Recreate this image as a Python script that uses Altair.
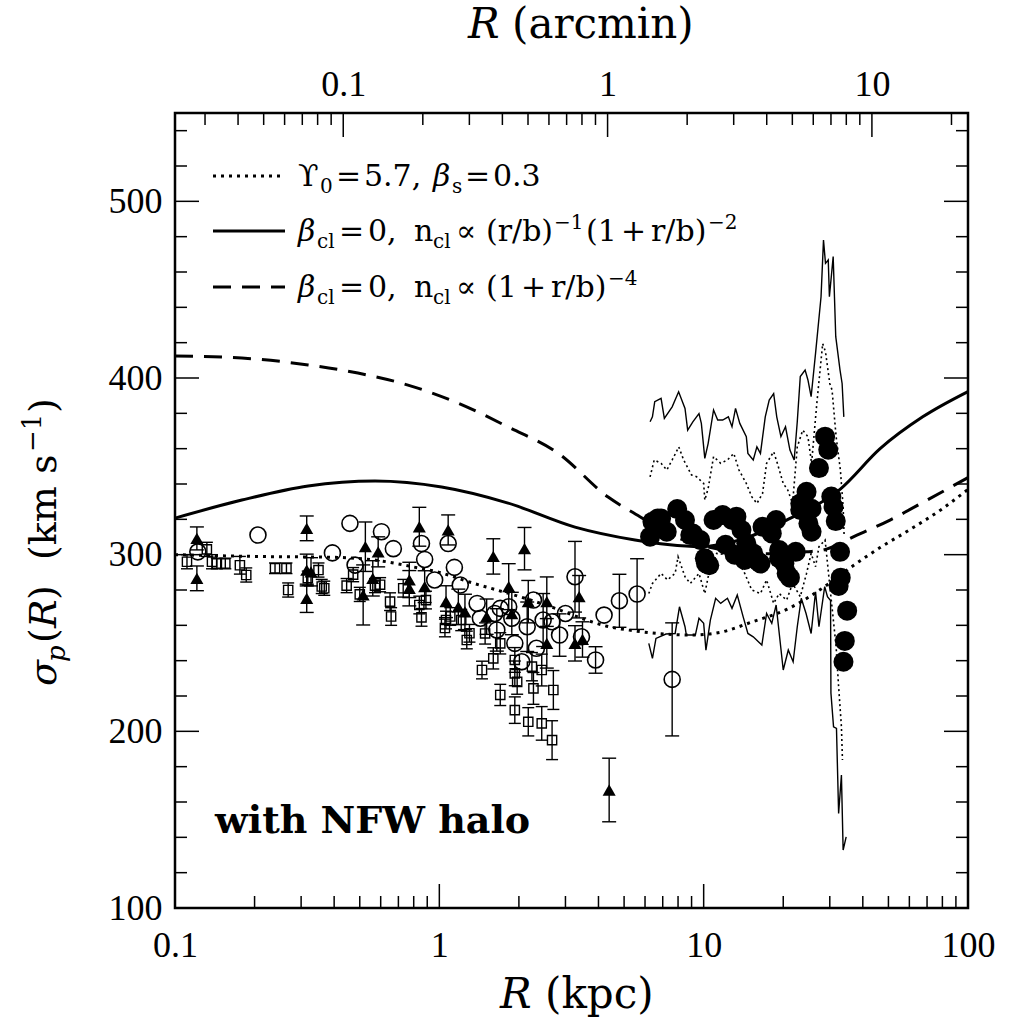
import altair as alt
import pandas as pd

SERIF = "Liberation Serif"
DV = "DejaVu Serif"
KPC_PER_ARCMIN = 4.33

# ---------------- model curves ----------------
dot_R = [0.1, 0.2, 0.4, 0.6, 0.8, 1.0, 1.3, 1.65, 2.14, 2.7, 3.6, 4.3, 5.4, 7.3, 9.0, 11.5, 15.3, 20.6, 25, 30, 35, 46.5, 60, 80, 100]
dot_S = [300, 299, 298.5, 296.5, 293, 290, 284.5, 280, 275, 270, 263, 259.5, 257, 255, 254.5, 256, 262, 269, 276, 284, 291.5, 304, 314, 326, 337]

sol_R = [0.1, 0.179, 0.319, 0.571, 1.02, 1.82, 3.26, 5.5, 7.3, 9.7, 13.7, 20.6, 32.8, 46.5, 67.4, 100]
sol_S = [320.7, 330.9, 338.9, 341.7, 338.3, 329.2, 315.6, 308.3, 305.7, 304.5, 308.3, 319.6, 337, 360, 378, 392.3]

dash_R = [0.1, 0.179, 0.319, 0.492, 0.761, 1.177, 1.82, 2.81, 4.35, 5.74, 7.3, 10, 13, 17, 20, 24.5, 28.3, 38, 50.7, 70, 100]
dash_S = [412.4, 411.3, 407.4, 402.8, 396, 385.8, 372.3, 357.5, 332.6, 321.5, 312, 305, 302, 300.5, 300.5, 301.6, 302.6, 311, 319.6, 330.9, 343.6]

# ---------------- noisy envelopes ----------------
up_sol_R = [6.27, 6.4, 6.53, 6.9, 7.1, 7.6, 8.04, 8.5, 8.7, 9.1, 9.6, 9.8, 10.1, 10.4, 10.9, 11.3, 11.8, 12.4, 12.8, 13.2, 13.7, 14.5, 14.7, 15.4, 15.9, 16.4, 17.1, 17.7, 18.4, 18.9, 19.6, 20.4, 21.2, 22.0, 22.6, 23.2, 24.2, 24.8, 25.5, 26.5, 27.8, 28.4, 28.9, 29.6, 29.9, 30.9, 31.6, 32.8, 33.4, 33.9]
up_sol_S = [375.2, 378, 386.6, 388.5, 377.1, 383.7, 392.2, 382.8, 370.5, 375.2, 379.9, 374.3, 354.5, 363, 381.9, 376.2, 376.2, 378, 372.4, 382.8, 374.3, 366.8, 357.3, 353.6, 361, 357.3, 378, 387.5, 391.2, 378, 366.8, 372.4, 359.2, 353.6, 375.2, 400.8, 404.5, 398.9, 389.4, 413.9, 446, 478.1, 464.9, 466.8, 446, 468.7, 423.4, 404.5, 396.9, 378]

lo_sol_R = [6.2, 6.4, 6.6, 7.2, 7.8, 8.1, 8.5, 8.6, 9.3, 9.6, 10.0, 10.2, 10.6, 11.1, 11.6, 12.3, 12.8, 13.4, 14.1, 14.7, 15.4, 16.6, 17.3, 18.1, 18.8, 20.0, 20.9, 21.8, 22.6, 23.4, 24.4, 25.5, 26.5, 27.3, 28.7, 29.4, 30.2, 30.3, 31.0, 31.8, 32.4, 33.2, 33.7, 34.6]
lo_sol_S = [249.8, 241.3, 252.6, 255.1, 255.4, 270.5, 259.2, 254.5, 254.5, 264, 261.1, 246, 263, 275.3, 272.4, 275.3, 269.6, 277.2, 264.9, 255.4, 253.5, 248.8, 266.7, 261.1, 271.5, 234.7, 246, 239.4, 259.2, 275.3, 266.7, 255.4, 279, 259.2, 281.9, 276.2, 274, 221.7, 202.6, 201.7, 153.5, 175.3, 132.8, 140.3]

up_dot_R = [6.27, 6.5, 6.9, 7.25, 7.6, 8.05, 8.4, 9.0, 9.4, 10.0, 10.1, 10.4, 10.9, 11.6, 12.3, 13.0, 13.6, 14.5, 15.2, 15.9, 16.7, 17.3, 18.4, 19.0, 20.0, 20.8, 21.7, 22.6, 23.7, 24.8, 25.6, 26.8, 28.2, 28.9, 30.0, 30.6, 31.7, 32.9, 33.7, 34.0]
up_dot_S = [344, 353.6, 351.7, 347.9, 353.6, 361, 353.6, 345.1, 344.1, 340.3, 330.9, 337.5, 355.5, 351.7, 353.6, 357.3, 347.9, 340.3, 332.8, 329, 334.6, 351.7, 358.3, 351.7, 340.3, 336.6, 329, 361, 370.5, 366.8, 351.7, 385.7, 419.5, 414.8, 396.9, 393.2, 366.8, 347.9, 327.1, 310]

lo_dot_R = [6.2, 6.4, 6.9, 7.3, 7.8, 8.0, 8.5, 8.9, 9.6, 10.1, 10.4, 11.2, 12.3, 13.0, 14.3, 15.2, 16.4, 17.3, 18.4, 19.3, 20.6, 21.7, 23.2, 24.5, 25.5, 26.5, 27.3, 28.8, 30.3, 31.7, 32.4, 33.2, 33.5]
lo_dot_S = [278, 283.7, 289.4, 285.7, 289.4, 298.8, 287.5, 283.7, 289.4, 278, 287.5, 300.7, 299.8, 300.7, 289.4, 280, 278, 285.7, 272.4, 278, 274.3, 283.7, 276.2, 289.4, 300.7, 293.2, 304.5, 308.3, 276.2, 247.9, 225.3, 202.6, 183.8]

# ---------------- data points ----------------
sq_R = [0.111, 0.132, 0.138, 0.144, 0.155, 0.176, 0.186, 0.239, 0.264, 0.268, 0.318, 0.349, 0.359, 0.367, 0.446, 0.472, 0.50, 0.571, 0.597, 0.651, 0.657, 0.73, 0.84, 0.856, 0.89, 1.05, 1.06, 1.10, 1.21, 1.27, 1.30, 1.45, 1.49, 1.60, 1.70, 1.70, 1.93, 1.93, 1.93, 1.97, 2.17, 2.24, 2.27, 2.44, 2.44, 2.67, 2.70]
sq_S = [296, 303, 296, 295, 295, 294, 288.5, 292.3, 292.3, 280, 286.7, 291.3, 282, 281, 282.5, 288.7, 277.5, 282.5, 283, 273.4, 265, 281, 271.5, 264.5, 274.3, 258.5, 263, 265, 263, 251.7, 255.5, 234.7, 255.4, 241.3, 220.6, 249.8, 212, 240.4, 232.8, 228, 205.4, 236.6, 224.3, 204.5, 234.7, 195, 223.4]
sq_E = [4, 4, 4, 3, 3, 5, 4, 3, 3, 4, 4, 4, 4, 4, 4, 4, 4, 4, 4, 5, 5, 5, 5, 5, 5, 5, 5, 5, 6, 5, 5, 5, 6, 6, 6, 6, 7.5, 7, 7, 7, 8, 8, 9, 9.5, 9, 11, 11]

tri_R = [0.121, 0.121, 0.315, 0.315, 0.315, 0.327, 0.525, 0.515, 0.56, 0.587, 0.77, 0.77, 0.84, 0.88, 1.06, 1.08, 1.18, 1.25, 1.51, 1.60, 1.83, 1.88, 2.10, 2.17, 2.55, 2.55, 3.26, 3.38, 3.48, 4.39]
tri_S = [309.2, 286.6, 314.9, 291.3, 275.3, 290.3, 304.5, 277.2, 286.6, 301.6, 285.7, 281, 315.8, 281.9, 273.4, 314, 270.5, 267.6, 264.9, 299, 281.9, 266.7, 303.4, 273.4, 273.4, 249.8, 249.8, 276.2, 252, 166.8]
tri_E = [6.5, 7, 7, 9, 8, 8, 14, 17, 10, 8.5, 10, 10, 11, 9, 9, 8.5, 10, 10, 10, 10, 13, 12, 12, 12, 14, 14, 10, 12, 10, 18]

oc_R = [0.122, 0.206, 0.394, 0.459, 0.48, 0.604, 0.67, 0.856, 0.88, 0.96, 1.08, 1.14, 1.20, 1.39, 1.43, 1.62, 1.70, 1.65, 1.83, 1.88, 1.93, 2.05, 2.15, 2.27, 2.33, 2.47, 2.67, 2.85, 3.0, 3.26, 3.45, 3.9, 4.2, 4.8, 5.6, 7.6]
oc_S = [301.6, 311.1, 301, 317.7, 294.1, 313, 303.4, 306.3, 297.3, 285.7, 306.3, 292.8, 282.8, 272.4, 264, 266.7, 269.6, 257.4, 270.5, 264, 249.8, 239.4, 259.2, 274.3, 247, 263, 262, 254.5, 266.7, 287.5, 253.5, 240.4, 265.8, 273.9, 277.7, 229.4]
oc_E = [0, 0, 0, 0, 0, 0, 0, 0, 0, 0, 0, 0, 0, 0, 0, 0, 0, 12, 0, 0, 0, 0, 14, 0, 0, 15, 0, 12, 0, 20, 0, 7.5, 0, 15, 20, 32]

fc_R = [6.27, 6.4, 6.7, 6.9, 7.25, 7.94, 8.5, 8.9, 9.1, 9.7, 10.1, 10.2, 10.5, 10.9, 11.8, 12.1, 12.8, 13.1, 13.3, 13.9, 14.3, 14.5, 15.4, 16.1, 16.4, 16.7, 18.1, 18.8, 19.3, 19.3, 20.2, 20.6, 21.2, 22.3, 23.2, 23.2, 24.5, 24.9, 25.6, 25.6, 27.3, 28.8, 29.6, 30.4, 31.0, 31.6, 32.8, 33.0, 32.4, 34.9, 34.2, 33.8]
fc_S = [310.2, 318.7, 320.5, 320.5, 313, 325.8, 319.6, 311.1, 312, 308.3, 298, 295.1, 294, 319.6, 322.4, 305.6, 319.6, 300, 321.5, 314, 297, 306.4, 300.7, 296, 295, 315.8, 312, 319.6, 302.6, 298, 295, 289.4, 287, 301.6, 329, 325.3, 335.6, 317.7, 326, 313, 349, 366.8, 359.4, 332.9, 327.1, 319, 301.6, 287, 282.3, 268.3, 251.2, 239.4]

# ---------------- axis ticks ----------------
x_major = [0.1, 1, 10, 100]
x_minor = [m * d for d in (0.1, 1, 10) for m in range(2, 10)]
y_major = [100, 200, 300, 400, 500]
y_minor = [v for v in range(120, 550, 20) if v % 100 != 0]
top_major = [0.1, 1, 10]
top_minor = [0.03, 0.04, 0.05, 0.06, 0.07, 0.08, 0.09, 0.2, 0.3, 0.4, 0.5, 0.6, 0.7, 0.8, 0.9, 2, 3, 4, 5, 6, 7, 8, 9, 20]

W, H = 793, 795
OX, OY = 175, 113
MAJ, MIN = 24, 12

XDOM = [0.1, 100]
X_AXIS = alt.Axis(values=x_major, format="~g", ticks=False, domain=False, grid=False,
                  labelFont=SERIF, labelFontSize=36, labelPadding=20, labelColor="black",
                  labelFlush=False, labelOverlap=False, title=None)
Y_AXIS = alt.Axis(values=y_major, format="d", ticks=False, domain=False, grid=False,
                  labelFont=SERIF, labelFontSize=36, labelPadding=13, labelColor="black",
                  labelOverlap=False, title=None)


def XK(field="R"):
    return alt.X(f"{field}:Q", scale=alt.Scale(type="log", domain=XDOM), axis=X_AXIS)


def YS(field="S"):
    return alt.Y(f"{field}:Q", scale=alt.Scale(domain=[100, 550]), axis=Y_AXIS)


def frame(R, S):
    return pd.DataFrame({"R": R, "S": S, "i": list(range(len(R)))})


def errframe(R, S, E):
    rows = [(r, s - e, s + e) for r, s, e in zip(R, S, E) if e > 0]
    return pd.DataFrame(rows, columns=["R", "lo", "hi"])


layers = []

# model curves
layers.append(alt.Chart(frame(dot_R, dot_S)).mark_line(color="black", strokeWidth=3, strokeDash=[3, 5], interpolate="monotone").encode(x=XK(), y=YS(), order="i:Q"))
layers.append(alt.Chart(frame(sol_R, sol_S)).mark_line(color="black", strokeWidth=3, interpolate="monotone").encode(x=XK(), y=YS(), order="i:Q"))
layers.append(alt.Chart(frame(dash_R, dash_S)).mark_line(color="black", strokeWidth=3, strokeDash=[18, 11], interpolate="monotone").encode(x=XK(), y=YS(), order="i:Q"))

# noisy envelopes
for R, S in ((up_sol_R, up_sol_S), (lo_sol_R, lo_sol_S)):
    layers.append(alt.Chart(frame(R, S)).mark_line(color="black", strokeWidth=1.4).encode(x=XK(), y=YS(), order="i:Q"))
for R, S in ((up_dot_R, up_dot_S), (lo_dot_R, lo_dot_S)):
    layers.append(alt.Chart(frame(R, S)).mark_line(color="black", strokeWidth=1.6, strokeDash=[2, 3]).encode(x=XK(), y=YS(), order="i:Q"))

# error bars + caps
for R, S, E, cap in ((sq_R, sq_S, sq_E, 12), (tri_R, tri_S, tri_E, 14), (oc_R, oc_S, oc_E, 14)):
    ed = errframe(R, S, E)
    layers.append(alt.Chart(ed).mark_rule(color="black", strokeWidth=1.4).encode(x=XK(), y=YS("lo"), y2="hi:Q"))
    for f in ("lo", "hi"):
        layers.append(alt.Chart(ed).mark_point(shape="M-1,0L1,0", size=cap * cap, filled=False, color="black", strokeWidth=1.4, opacity=1).encode(x=XK(), y=YS(f)))

# markers
layers.append(alt.Chart(frame(sq_R, sq_S)).mark_point(shape="square", size=85, filled=False, color="black", strokeWidth=1.4, opacity=1).encode(x=XK(), y=YS()))
layers.append(alt.Chart(frame(tri_R, tri_S)).mark_point(shape="triangle-up", size=170, filled=True, color="black", opacity=1).encode(x=XK(), y=YS()))
layers.append(alt.Chart(frame(oc_R, oc_S)).mark_point(shape="circle", size=256, filled=False, color="black", strokeWidth=1.6, opacity=1).encode(x=XK(), y=YS()))
layers.append(alt.Chart(frame(fc_R, fc_S)).mark_point(shape="circle", size=400, filled=True, color="black", opacity=1).encode(x=XK(), y=YS()))

# inward ticks: bottom, left, right
tx_maj = pd.DataFrame({"R": x_major})
tx_min = pd.DataFrame({"R": x_minor})
ty_maj = pd.DataFrame({"S": y_major})
ty_min = pd.DataFrame({"S": y_minor})
for d, L in ((tx_maj, MAJ), (tx_min, MIN)):
    layers.append(alt.Chart(d).mark_rule(color="black", strokeWidth=1.5).encode(x=XK(), y=alt.value(H), y2=alt.value(H - L)))
for d, L in ((ty_maj, MAJ), (ty_min, MIN)):
    layers.append(alt.Chart(d).mark_rule(color="black", strokeWidth=1.5).encode(y=YS(), x=alt.value(0), x2=alt.value(L)))
    layers.append(alt.Chart(d).mark_rule(color="black", strokeWidth=1.5).encode(y=YS(), x=alt.value(W), x2=alt.value(W - L)))

ONE = pd.DataFrame({"k": [0]})

# legend samples
for yy, extra in ((176, {"strokeDash": [3, 5]}), (231, {}), (287, {"strokeDash": [18, 11]})):
    layers.append(alt.Chart(ONE).mark_rule(color="black", strokeWidth=3, **extra).encode(
        x=alt.value(213 - OX), x2=alt.value(285 - OX), y=alt.value(yy - OY)))


def T(s, x, y, size=30, style="normal", weight="normal", font=DV, angle=0, align="left", baseline="alphabetic"):
    return alt.Chart(ONE).mark_text(text=s, font=font, fontSize=size, fontStyle=style, fontWeight=weight,
                                    angle=angle, align=align, baseline=baseline, color="black").encode(
        x=alt.value(x - OX), y=alt.value(y - OY))


SUB, SUP, SM = 7, -12, 20
# legend line 1
b1 = 186
layers += [T("ϒ", 298, b1), T("0", 320, b1 + SUB, SM), T("=", 336, b1), T("5.7,", 364, b1),
           T("β", 433, b1, style="italic"), T("s", 452, b1 + SUB, SM), T("=", 465, b1), T("0.3", 493, b1)]
# legend line 2
b2 = 241
layers += [T("β", 298, b2, style="italic"), T("cl", 317, b2 + SUB, SM), T("=", 339, b2), T("0,", 368, b2),
           T("n", 414, b2), T("cl", 433, b2 + SUB, SM), T("∝", 456, b2), T("(r/b)", 486, b2),
           T("−1", 554, b2 + SUP, SM), T("(1", 586, b2), T("+", 621, b2), T("r/b)", 651, b2),
           T("−2", 708, b2 + SUP, SM)]
# legend line 3
b3 = 297
layers += [T("β", 298, b3, style="italic"), T("cl", 317, b3 + SUB, SM), T("=", 339, b3), T("0,", 368, b3),
           T("n", 414, b3), T("cl", 433, b3 + SUB, SM), T("∝", 456, b3), T("(1", 486, b3),
           T("+", 521, b3), T("r/b)", 551, b3), T("−4", 608, b3 + SUP, SM)]

# annotation
layers.append(T("with NFW halo", 215, 833, size=38, weight="bold"))

# axis titles
layers += [T("R", 468, 38, size=42, style="italic"), T("(arcmin)", 512, 38, size=42)]
layers += [T("R", 500, 1008, size=42, style="italic"), T("(kpc)", 545, 1008, size=42)]
# rotated y title (reads bottom to top)
yx = 56
layers += [T("σ", yx, 686, size=38, style="italic", angle=270),
           T("p", yx + 9, 662, size=26, style="italic", angle=270),
           T("(", yx, 643, size=38, angle=270),
           T("R", yx, 628, size=38, style="italic", angle=270),
           T(")", yx, 600, size=38, angle=270),
           T("(km s", yx, 560, size=38, angle=270),
           T("−1", yx - 15, 452, size=26, angle=270),
           T(")", yx, 413, size=38, angle=270)]

inner = alt.layer(*layers)

# top axis in arcmin
TOP_AXIS = alt.Axis(orient="top", values=top_major, format="~g", ticks=False, domain=False, grid=False,
                    labelFont=SERIF, labelFontSize=36, labelPadding=10, labelColor="black",
                    labelFlush=False, labelOverlap=False, title=None)
XA = alt.X("A:Q", scale=alt.Scale(type="log", domain=[XDOM[0] / KPC_PER_ARCMIN, XDOM[1] / KPC_PER_ARCMIN]), axis=TOP_AXIS)
top = alt.layer(
    alt.Chart(pd.DataFrame({"A": top_major})).mark_rule(color="black", strokeWidth=1.5).encode(x=XA, y=alt.value(0), y2=alt.value(MAJ)),
    alt.Chart(pd.DataFrame({"A": top_minor})).mark_rule(color="black", strokeWidth=1.5).encode(x=XA, y=alt.value(0), y2=alt.value(MIN)),
)

chart = alt.layer(inner, top).resolve_scale(x="independent").properties(
    width=W, height=H,
    autosize=alt.AutoSizeParams(type="none"),
    padding={"left": OX, "top": OY, "right": 1010 - OX - W, "bottom": 1030 - OY - H},
    background="white",
).configure_view(stroke="black", strokeWidth=2.5)

chart.save("out.html", embed_options={"renderer": "svg", "actions": False})
